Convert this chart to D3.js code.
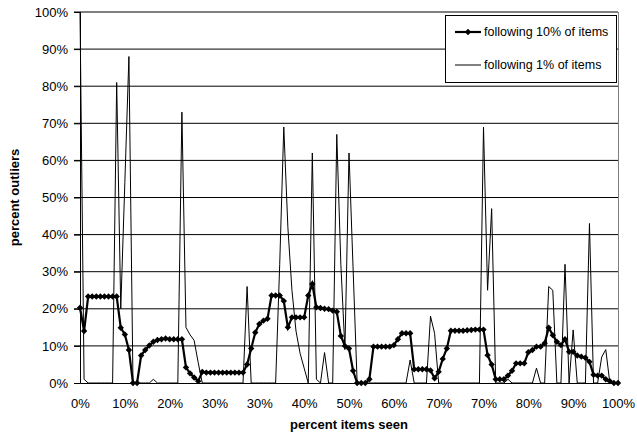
<!DOCTYPE html>
<html><head><meta charset="utf-8">
<script src="https://cdn.jsdelivr.net/npm/d3@7"></script>
<style>
body{margin:0;background:#fff}
svg{display:block}
text{font-family:"Liberation Sans",Arial,Helvetica,sans-serif;fill:#000}
</style>
</head><body>
<svg id="chart" width="637" height="439"></svg>
<script>
// ---- data ----
const xTickLabels = ["0%","10%","20%","30%","30%","40%","50%","60%","70%","70%","80%","90%","100%"];
const yTicks = [0,10,20,30,40,50,60,70,80,90,100];
const seriesNames = ["following 10% of items","following 1% of items"];
const following10 = [20.3,14,23.3,23.3,23.3,23.3,23.3,23.3,23.3,23.3,
14.9,13.1,8.9,0,0,7.4,8.9,10.1,11.1,11.6,
11.8,12,11.8,11.8,11.8,11.8,4.2,2.6,1.5,0.5,
3,2.8,2.8,2.8,2.8,2.8,2.8,2.8,2.8,2.8,
2.8,5,9.3,13.6,15.9,16.8,17.3,23.6,23.6,23.6,
22.1,15,17.7,17.7,17.7,17.7,23.6,26.7,20.4,20.2,
20,19.9,19.5,19.2,12.7,10,9.3,3.3,0,0,
0,1,9.8,9.8,9.8,9.8,9.8,10.2,11.8,13.4,
13.4,13.4,3.7,3.7,3.7,3.7,3.4,1.3,3,6.5,
9.3,14.1,14.1,14.1,14.1,14.2,14.3,14.4,14.4,14.4,
7.5,5,1,1,1,2,3.3,5.3,5.3,5.3,
8.3,8.9,9.8,9.8,10.7,14.9,12.9,11.1,10.2,11.8,
8.4,8.4,7.4,7.1,6.8,5.7,2.2,2,2,1,
0.5,0,0];
const following1 = [100,1,0,0,0,0,0,0,0,81,
20,54,88,0,0,0,0,0,1,0,
0,0,0,0,0,73,15,13,11.5,5.5,
0,0,0,0,0,0,0,0,0,0,
0,26,0,0,0,0,0,0,0,32,
69,42,25,14,8,4,0,62,1,0,
8.2,0,0,67,32,9,62,31,0,0,
0,0,0,0,0,0,0,0,0,0,
0,6.2,0,0,0,0,18,13.4,0,0,
0,0,0,0,0,0,0,0,0,69,
25,47,0,0,0,1,0,0,0,0,
0,0,4,0,0,26,25,0,0,32,
0,14.3,0,0,0,43,0,0,7,9,
0,0,0];
const categories = following10.map((_, i) => i);

// ---- layout ----
const L = 80, R = 618, T = 12, B = 383;
const svg = d3.select("#chart");

const x = d3.scaleLinear().domain([0, categories.length - 1]).range([L, R]);
const xLab = d3.scalePoint().domain(xTickLabels.map((_, i) => i)).range([L, R]);
const y = d3.scaleLinear().domain([0, 100]).range([B, T]);

// gridlines
svg.append("g").selectAll("line").data(yTicks.filter(v => v > 0)).join("line")
  .attr("x1", L - 6).attr("x2", R)
  .attr("y1", d => y(d)).attr("y2", d => y(d))
  .attr("stroke", "#000").attr("stroke-width", 1);

// right border
svg.append("line").attr("x1", R + 0.5).attr("x2", R + 0.5).attr("y1", T).attr("y2", B)
  .attr("stroke", "#808080");

// y axis
const yAxis = svg.append("g").attr("transform", `translate(${L},0)`)
  .call(d3.axisLeft(y).tickValues(yTicks).tickFormat(d => d + "%").tickSize(6).tickPadding(6));
yAxis.select(".domain").attr("stroke", "#000");
yAxis.selectAll("line").attr("stroke", "#000");
yAxis.selectAll("text").attr("font-size", 13);

// x axis
const xAxis = svg.append("g").attr("transform", `translate(0,${B})`)
  .call(d3.axisBottom(xLab).tickFormat(i => xTickLabels[i]).tickSize(0).tickPadding(16));
xAxis.select(".domain").attr("stroke", "#000");
xAxis.selectAll("text").attr("font-size", 13);

// series
const line = d3.line().x((d, i) => x(i)).y(d => y(d));
svg.append("path").datum(following1).attr("d", line)
  .attr("fill", "none").attr("stroke", "#000").attr("stroke-width", 1);
svg.append("path").datum(following10).attr("d", line)
  .attr("fill", "none").attr("stroke", "#000").attr("stroke-width", 2.2);
const diamond = "M0,-3.2L3.2,0L0,3.2L-3.2,0Z";
svg.append("g").selectAll("path").data(following10).join("path")
  .attr("d", diamond)
  .attr("transform", (d, i) => `translate(${x(i)},${y(d)})`)
  .attr("fill", "#000");

// axis titles
svg.append("text").attr("x", (L + R) / 2).attr("y", 429)
  .attr("text-anchor", "middle").attr("font-size", 13).attr("font-weight", "bold")
  .text("percent items seen");
svg.append("text").attr("transform", `translate(19,${(T + B) / 2}) rotate(-90)`)
  .attr("text-anchor", "middle").attr("font-size", 13).attr("font-weight", "bold")
  .text("percent outliers");

// legend
const lg = svg.append("g");
lg.append("rect").attr("x", 445.5).attr("y", 15.5).attr("width", 171).attr("height", 67)
  .attr("fill", "#fff").attr("stroke", "#000");
const rows = [32, 65];
seriesNames.forEach((name, k) => {
  lg.append("line").attr("x1", 455).attr("x2", 481).attr("y1", rows[k]).attr("y2", rows[k])
    .attr("stroke", "#000").attr("stroke-width", k === 0 ? 2.2 : 1);
  if (k === 0) lg.append("path").attr("d", diamond).attr("transform", `translate(468,${rows[k]})`).attr("fill", "#000");
  lg.append("text").attr("x", 484).attr("y", rows[k]).attr("dy", "0.35em")
    .attr("font-size", 12.5).text(name);
});
</script>
</body></html>
